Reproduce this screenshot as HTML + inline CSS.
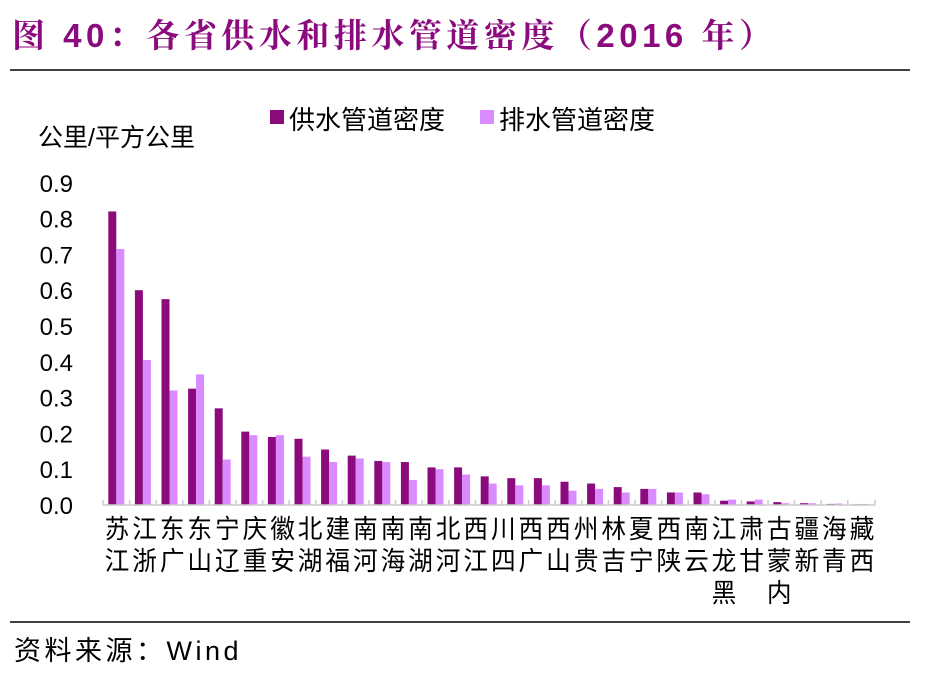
<!DOCTYPE html>
<html><head><meta charset="utf-8"><style>
html,body{margin:0;padding:0;background:#fff;}
body{width:926px;height:673px;overflow:hidden;position:relative;font-family:"Liberation Sans","Noto Sans CJK SC",sans-serif;}
</style></head><body>
<svg width="926" height="673" xmlns="http://www.w3.org/2000/svg" font-family="Liberation Sans, Noto Sans CJK SC, sans-serif">
<text x="12" y="47" font-size="33" font-weight="bold" fill="#8B0A7E" letter-spacing="4.5" font-family="Liberation Sans, Noto Serif CJK SC, serif">图 40：各省供水和排水管道密度（2016 年）</text>
<line x1="10" y1="70" x2="910" y2="70" stroke="#000" stroke-width="1.5"/>
<line x1="10" y1="622" x2="910" y2="622" stroke="#000" stroke-width="1.5"/>
<text x="14" y="660" font-size="27" fill="#000" letter-spacing="3.5">资料来源：Wind</text>
<rect x="270" y="110" width="14" height="14" fill="#8B0A7C"/>
<text x="289" y="129" font-size="26">供水管道密度</text>
<rect x="480" y="110" width="14" height="14" fill="#DA8BFF"/>
<text x="499" y="129" font-size="26">排水管道密度</text>
<text x="38" y="146" font-size="25">公里/平方公里</text>
<g font-size="24" text-anchor="end" id="yt"></g>
<g id="bars"></g>
<line x1="103" y1="505" x2="875" y2="505" stroke="#ccc" stroke-width="1.5"/>
<g id="xt"></g>
</svg>
<script>
const ns="http://www.w3.org/2000/svg";
const d=[0.82,0.60,0.575,0.325,0.27,0.205,0.19,0.185,0.155,0.138,0.123,0.12,0.105,0.105,0.08,0.075,0.075,0.065,0.06,0.05,0.045,0.035,0.035,0.012,0.01,0.008,0.005,0.003,0.002];
const l=[0.715,0.405,0.32,0.365,0.127,0.195,0.195,0.135,0.12,0.13,0.12,0.07,0.1,0.085,0.06,0.055,0.055,0.04,0.045,0.035,0.045,0.035,0.03,0.015,0.015,0.005,0.005,0.004,0.003];
const y0=505,k=358,x0=103,p=26.6;
function el(t,a,parent,txt){const e=document.createElementNS(ns,t);for(const q in a)e.setAttribute(q,a[q]);if(txt!==undefined)e.textContent=txt;document.getElementById(parent).appendChild(e);}
for(let i=0;i<=9;i++){el("text",{x:73,y:y0-i*35.8+9},"yt",(i/10).toFixed(1));}
const names=["江苏","浙江","广东","山东","辽宁","重庆","安徽","湖北","福建","河南","海南","湖南","河北","江西","四川","广西","山西","贵州","吉林","宁夏","陕西","云南","黑龙江","甘肃","内蒙古","新疆","青海","西藏"];
const N=29;
for(let i=0;i<N;i++){
 const c=x0+p*(i+0.5);
 el("line",{x1:x0+p*i,y1:500,x2:x0+p*i,y2:505,stroke:"#ccc","stroke-width":1.5},"xt");
 el("rect",{x:c-8,y:y0-d[i]*k,width:8,height:d[i]*k,fill:"#8B0A7C"},"bars");
 el("rect",{x:c,y:y0-l[i]*k,width:8,height:l[i]*k,fill:"#DA8BFF"},"bars");
}
el("line",{x1:875,y1:500,x2:875,y2:505,stroke:"#ccc","stroke-width":1.5},"xt");
const lp=(862-117)/27;
names.forEach((s,i)=>{const c=117+lp*i;const ch=[...s].reverse();
 ch.forEach((t,j)=>el("text",{x:c,y:538+j*32,"font-size":26,"text-anchor":"middle",transform:`translate(${c},0) scale(0.95,1) translate(${-c},0)`},"xt",t));});
</script>
</body></html>
